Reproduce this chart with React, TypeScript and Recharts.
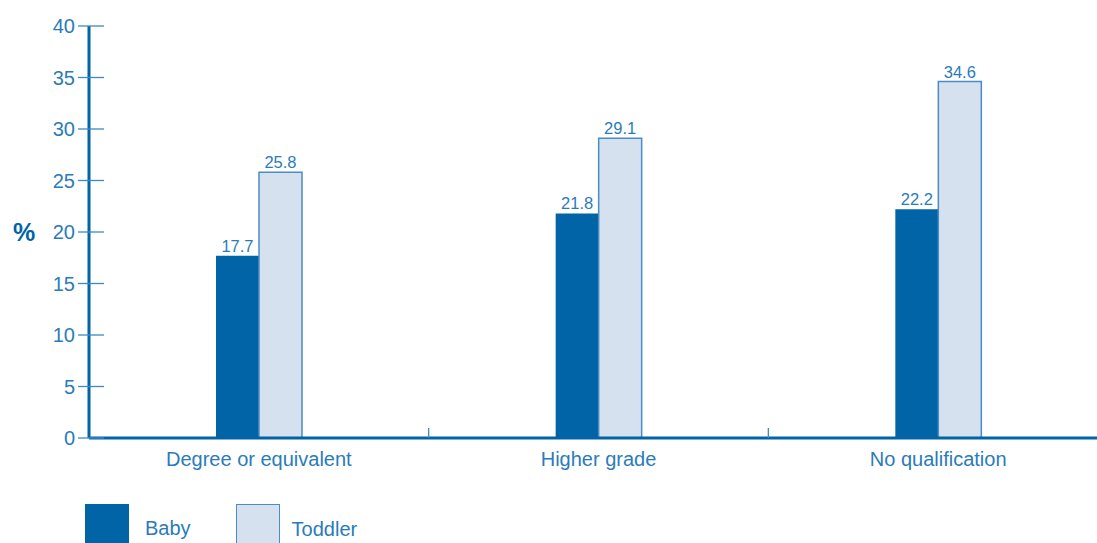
import React from 'react';
import { BarChart, Bar, XAxis, YAxis, LabelList } from 'recharts';

const categories = ['Degree or equivalent', 'Higher grade', 'No qualification'];
const babyValues = [17.7, 21.8, 22.2];
const toddlerValues = [25.8, 29.1, 34.6];
const yTicks = [0, 5, 10, 15, 20, 25, 30, 35, 40];

const data = categories.map((c, i) => ({ name: c, baby: babyValues[i], toddler: toddlerValues[i] }));

const FONT = '"Liberation Sans", Arial, Helvetica, sans-serif';
const TEXT = '#2b7bbb';
const DARK = '#0064a6';
const LIGHT_FILL = '#d5e1ef';
const LIGHT_STROKE = '#4a8dc6';
const TICK = '#3f88c2';

const CHART_W = 1108;
const MARGIN_LEFT = 0;
const YAXIS_W = 89;
const BAND = (CHART_W - MARGIN_LEFT - YAXIS_W) / categories.length;

const YTick = (props: any) => {
  const { x, y, payload } = props;
  return (
    <g>
      <line x1={x - 11} x2={x + 15} y1={y} y2={y} stroke={TICK} strokeWidth={1.3} />
      <text x={x - 14} y={y} dy={7} textAnchor="end" fill={TEXT} fontSize={20} fontFamily={FONT}>
        {payload.value}
      </text>
    </g>
  );
};

const XTick = (props: any) => {
  const { x, y, payload } = props;
  return (
    <g>
      <line x1={x + BAND / 2} x2={x + BAND / 2} y1={y - 10} y2={y} stroke={TICK} strokeWidth={1.3} />
      <text x={x} y={y} dy={28} textAnchor="middle" fill={TEXT} fontSize={20} fontFamily={FONT}>
        {payload.value}
      </text>
    </g>
  );
};

export default function App() {
  return (
    <div style={{ position: 'absolute', left: 0, top: 0, width: 1097, height: 543, overflow: 'hidden', background: '#fff' }}>
      <BarChart
        width={CHART_W}
        height={543}
        data={data}
        margin={{ top: 26, right: 0, left: MARGIN_LEFT, bottom: 0 }}
        barCategoryGap={127}
        barGap={0}
      >
        <YAxis
          width={YAXIS_W}
          domain={[0, 40]}
          ticks={yTicks}
          interval={0}
          tickLine={false}
          tickSize={0}
          tickMargin={0}
          axisLine={{ stroke: DARK, strokeWidth: 3 }}
          tick={<YTick />}
          label={{ value: '%', position: 'insideLeft', offset: 13, style: { fill: DARK, fontSize: 25, fontWeight: 'bold', fontFamily: FONT } }}
        />
        <XAxis
          dataKey="name"
          height={105}
          tickLine={false}
          tickSize={0}
          tickMargin={0}
          interval={0}
          axisLine={{ stroke: DARK, strokeWidth: 3 }}
          tick={<XTick />}
        />
        <Bar dataKey="baby" fill={DARK} barSize={43} isAnimationActive={false}>
          <LabelList dataKey="baby" position="top" offset={4} fill={TEXT} fontSize={16.5} fontFamily={FONT} />
        </Bar>
        <Bar dataKey="toddler" fill={LIGHT_FILL} stroke={LIGHT_STROKE} strokeWidth={1.5} barSize={43} isAnimationActive={false}>
          <LabelList dataKey="toddler" position="top" offset={4} fill={TEXT} fontSize={16.5} fontFamily={FONT} />
        </Bar>
      </BarChart>
      <div style={{ position: 'absolute', left: 85, top: 504, display: 'flex', alignItems: 'flex-start', fontFamily: FONT }}>
        <div style={{ width: 44, height: 45, background: DARK }} />
        <div style={{ marginLeft: 16, marginTop: 13, fontSize: 20, color: TEXT }}>Baby</div>
        <div style={{ marginLeft: 45, width: 44, height: 45, background: LIGHT_FILL, border: `1px solid ${LIGHT_STROKE}`, boxSizing: 'border-box' }} />
        <div style={{ marginLeft: 12, marginTop: 14, fontSize: 20, color: TEXT }}>Toddler</div>
      </div>
    </div>
  );
}
